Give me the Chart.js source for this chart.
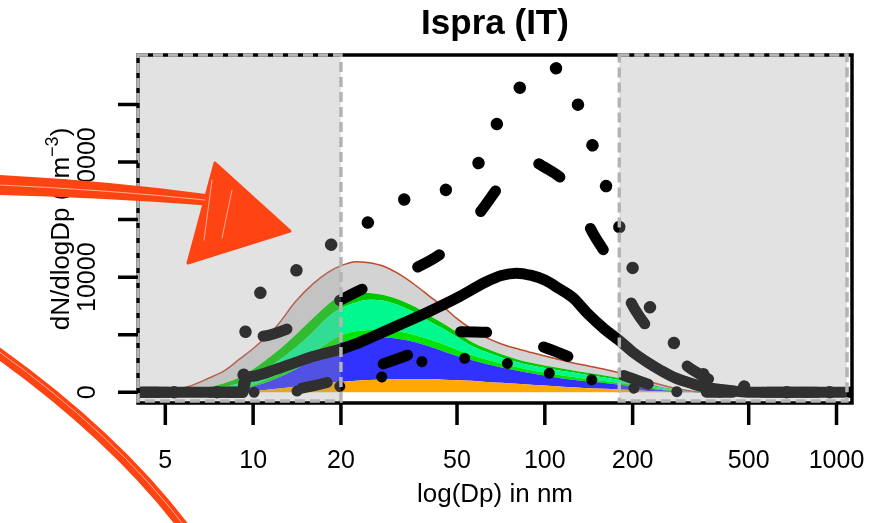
<!DOCTYPE html>
<html>
<head>
<meta charset="utf-8">
<title>Ispra (IT)</title>
<script src="https://cdn.jsdelivr.net/npm/chart.js@4.4.1/dist/chart.umd.min.js"></script>
<style>
  html, body { margin: 0; padding: 0; background: #fff; }
  #wrap { width: 876px; height: 523px; }
</style>
</head>
<body>
<div id="wrap"><canvas id="chart" width="876" height="523"></canvas></div>
<script>
// ---- fitted modes: cumulative tops of each layer (dN/dlogDp, cm-3) ----
const diam = [4, 5, 6, 7, 8, 9, 10, 12, 14, 16, 18, 20, 22.5, 25, 28, 32, 36, 40, 45, 50,
              56, 63, 71, 80, 90, 100, 112, 125, 140, 160, 180, 200, 225, 250, 280, 320, 360, 500, 1000, 1200];
const orangeTop = [0, 0, 0, 0, 0, 30, 100, 300, 500, 650, 800, 900, 1000, 1070, 1120, 1150, 1150, 1150, 1100, 1050,
                   1000, 900, 820, 750, 650, 580, 500, 430, 360, 300, 240, 180, 120, 70, 30, 0, 0, 0, 0, 0];
const blueTop   = [0, 0, 0, 30, 100, 250, 500, 1200, 2000, 2900, 3700, 4300, 4650, 4750, 4750, 4600, 4350, 4000, 3550, 3150,
                   2800, 2450, 2150, 1900, 1650, 1450, 1250, 1100, 950, 800, 650, 500, 350, 200, 80, 20, 0, 0, 0, 0];
const limeTop   = [0, 0, 10, 60, 150, 350, 650, 1500, 2400, 3400, 4300, 4950, 5300, 5420, 5400, 5250, 4950, 4600, 4150, 3700,
                   3250, 2850, 2500, 2200, 1920, 1700, 1500, 1330, 1160, 990, 820, 660, 470, 290, 140, 40, 0, 0, 0, 0];
const springTop = [0, 0, 60, 200, 450, 800, 1300, 2600, 3900, 5200, 6500, 7300, 7800, 8030, 7950, 7500, 6900, 6200, 5500, 4800,
                   4050, 3500, 3030, 2640, 2330, 2110, 1890, 1710, 1510, 1290, 1070, 870, 640, 400, 200, 60, 0, 0, 0, 0];
const greenTop  = [0, 20, 150, 400, 800, 1300, 2000, 3500, 5000, 6400, 7600, 8400, 8650, 8620, 8450, 8000, 7400, 6700, 5950, 5200,
                   4400, 3800, 3300, 2880, 2570, 2320, 2100, 1900, 1690, 1460, 1230, 1000, 740, 470, 250, 80, 0, 0, 0, 0];
const totalTop  = [0, 80, 500, 1200, 1900, 2900, 3800, 5700, 7900, 9400, 10400, 11000, 11350, 11250, 10950, 10200, 9300, 8400, 7400, 6400,
                   5500, 4750, 4200, 3800, 3450, 3150, 2850, 2550, 2300, 2000, 1700, 1400, 1000, 650, 350, 100, 0, 0, 0, 0];

// ---- measured / modelled size distributions ----
const solidD = [4, 9.2, 9.5, 10, 12, 14, 16, 18, 20, 22.5, 25, 32, 40, 50, 63, 71, 80, 90, 100, 112,
                125, 140, 160, 180, 200, 225, 250, 280, 320, 360, 400, 450, 500, 1000, 1200];
const solidN = [0, 0, 1250, 1400, 2000, 2600, 3100, 3450, 3750, 4200, 4700, 5900, 7000, 8200, 9600, 10150, 10350, 10150, 9750, 9000,
                8200, 6850, 5500, 4500, 3500, 2600, 1900, 1250, 750, 400, 250, 100, 0, 0, 0];

const dashHiD = [4, 9.2, 9.5, 10.3, 13.6, 19.1, 24.6, 35.4, 45.4, 59.8, 70.2, 85, 98.5, 122, 146, 171, 204, 242, 323, 434, 600, 1200];
const dashHiN = [0, 0, 4500, 4810, 5680, 7770, 9160, 10700, 12300, 15600, 18000, 20300, 19630, 17750, 13850, 11050, 7160, 4730, 1900, 460, 0, 0];

const dotHiD = [4, 9.2, 9.4, 10.4, 13.9, 18.2, 24.4, 32.6, 45.5, 58.5, 68, 81, 107, 129, 145, 162, 180, 200, 229, 277, 340, 450, 550, 700, 1200];
const dotHiN = [0, 0, 5100, 8400, 10500, 12700, 14650, 16700, 17550, 19700, 23170, 26300, 28200, 25150, 21600, 17950, 14370, 10800, 7420, 4290, 1770, 700, 200, 0, 0];

const dashLoD = [4, 9.5, 13.4, 18.4, 26.2, 35.1, 49.3, 66.5, 98, 129, 180, 215, 248, 300, 400, 1200];
const dashLoN = [0, 0, 200, 920, 2230, 3390, 5270, 5160, 3970, 2810, 1600, 900, 400, 100, 0, 0];

const dotLoD = [4, 9.9, 14, 19.6, 27.3, 37.9, 52.6, 74, 104, 146, 203, 286, 400, 1200];
const dotLoN = [0, 0, 100, 490, 1300, 2660, 2950, 2520, 1650, 1070, 350, 50, 0, 0];

// axes
const xTicks = [5, 10, 20, 50, 100, 200, 500, 1000];
const yTicks = [0, 5000, 10000, 15000, 20000, 25000];
const yLabelled = [0, 10000, 20000];
const shadeLeft = 20;   // lower cut of the sizing window
const shadeRight = 180; // upper cut

const pts = (xs, ys) => xs.map((v, i) => ({ x: v, y: ys[i] }));
const FONT = '"Liberation Sans", Arial, Helvetica, sans-serif';

function layer(values, color, border) {
  return {
    data: pts(diam, values),
    fill: '-1',
    backgroundColor: color,
    borderColor: border ? border.color : 'rgba(0,0,0,0)',
    borderWidth: border ? border.width : 0,
    pointRadius: 0,
    cubicInterpolationMode: 'monotone',
    order: 1
  };
}

function curve(xs, ys, width, dash, offset) {
  return {
    data: pts(xs, ys),
    fill: false,
    borderColor: '#000',
    borderWidth: width,
    borderDash: dash || [],
    borderDashOffset: offset || 0,
    borderCapStyle: 'round',
    borderJoinStyle: 'round',
    pointRadius: 0,
    cubicInterpolationMode: 'monotone',
    order: 0
  };
}

const orangeLayer = layer(orangeTop, '#ffa800');
orangeLayer.fill = 'origin';

const datasets = [
  orangeLayer,
  layer(blueTop, '#3232ff'),
  layer(limeTop, '#00e400'),
  layer(springTop, '#00f88e'),
  layer(greenTop, '#00c800'),
  layer(totalTop, '#d3d3d3', { color: '#bf4a2c', width: 1.5 }),
  curve(solidD, solidN, 11),
  curve(dashHiD, dashHiN, 11, [25, 60], -5),
  curve(dashLoD, dashLoN, 11, [26, 59], 5),
  curve(dotHiD, dotHiN, 12.5, [0.01, 43], 6),
  curve(dotLoD, dotLoN, 11, [0.01, 43], 12)
];

// frame, shading, ticks and titles in the style of a base R plot
const frame = {
  id: 'frame',
  afterDatasetsDraw(chart) {
    const { ctx, chartArea: a, scales: { x, y } } = chart;
    const xl = x.getPixelForValue(shadeLeft);
    const xr = x.getPixelForValue(shadeRight);
    ctx.save();

    ctx.fillStyle = 'rgba(160,160,160,0.3)';
    ctx.fillRect(a.left, a.top, xl - a.left, a.bottom - a.top - 2);
    ctx.fillRect(xr, a.top, a.right - 5 - xr, a.bottom - a.top - 2);

    ctx.strokeStyle = '#000';
    ctx.lineWidth = 3.5;
    ctx.strokeRect(a.left, a.top, a.right - a.left, a.bottom - a.top);

    ctx.setLineDash([10, 5]);
    ctx.strokeStyle = '#b4b4b4';
    ctx.lineWidth = 3.5;
    ctx.strokeRect(a.left, a.top, xl - a.left, a.bottom - a.top - 2);
    ctx.strokeRect(xr, a.top, a.right - 5 - xr, a.bottom - a.top - 2);
    ctx.setLineDash([]);

    // ticks
    ctx.strokeStyle = '#000';
    ctx.lineWidth = 3.5;
    ctx.beginPath();
    xTicks.forEach(t => {
      const px = x.getPixelForValue(t);
      ctx.moveTo(px, a.bottom);
      ctx.lineTo(px, a.bottom + 22);
    });
    yTicks.forEach(t => {
      const py = y.getPixelForValue(t);
      ctx.moveTo(a.left, py);
      ctx.lineTo(a.left - 20, py);
    });
    ctx.stroke();

    ctx.fillStyle = '#000';
    ctx.font = '25px ' + FONT;
    ctx.textAlign = 'center';
    ctx.textBaseline = 'alphabetic';
    xTicks.forEach(t => ctx.fillText(String(t), x.getPixelForValue(t), 468));
    yLabelled.forEach(t => {
      ctx.save();
      ctx.translate(95, y.getPixelForValue(t));
      ctx.rotate(-Math.PI / 2);
      ctx.fillText(String(t), 0, 0);
      ctx.restore();
    });

    // axis titles
    ctx.font = '26px ' + FONT;
    ctx.fillText('log(Dp) in nm', (a.left + a.right) / 2, 502);

    ctx.save();
    ctx.translate(69, (a.top + a.bottom) / 2);
    ctx.rotate(-Math.PI / 2);
    const main = 'dN/dlogDp (cm', sup = '\u22123', tail = ')';
    ctx.font = '26px ' + FONT;
    const w1 = ctx.measureText(main).width, w3 = ctx.measureText(tail).width;
    ctx.font = '18px ' + FONT;
    const w2 = ctx.measureText(sup).width;
    let cx = -(w1 + w2 + w3) / 2;
    ctx.textAlign = 'left';
    ctx.font = '26px ' + FONT;
    ctx.fillText(main, cx, 0);
    ctx.font = '18px ' + FONT;
    ctx.fillText(sup, cx + w1, -11);
    ctx.font = '26px ' + FONT;
    ctx.fillText(tail, cx + w1 + w2, 0);
    ctx.restore();

    // title
    ctx.font = 'bold 35px ' + FONT;
    ctx.textAlign = 'center';
    ctx.fillText('Ispra (IT)', (a.left + a.right) / 2, 34);

    drawArrows(ctx);
    ctx.restore();
  }
};

// hand-drawn red pointers
function drawArrows(ctx) {
  const red = '#ff4414';
  ctx.save();
  ctx.fillStyle = red;
  ctx.strokeStyle = red;
  ctx.lineJoin = 'round';
  ctx.lineCap = 'round';

  // upper arrow: shaft
  ctx.beginPath();
  ctx.moveTo(-2, 175);
  ctx.quadraticCurveTo(110, 181, 214, 195);
  ctx.lineTo(214, 206);
  ctx.quadraticCurveTo(110, 198, -2, 195);
  ctx.closePath();
  ctx.fill();
  // head
  ctx.beginPath();
  ctx.moveTo(215, 163);
  ctx.lineTo(290, 231);
  ctx.lineTo(188, 263);
  ctx.closePath();
  ctx.fill();
  ctx.lineWidth = 3;
  ctx.stroke();

  // lower arrow shaft
  ctx.lineWidth = 11;
  ctx.beginPath();
  ctx.moveTo(-6, 350);
  ctx.quadraticCurveTo(115, 436, 186, 530);
  ctx.stroke();

  // pencil streaks
  ctx.strokeStyle = 'rgba(255,255,255,0.55)';
  ctx.lineWidth = 1;
  ctx.beginPath();
  ctx.moveTo(0, 185);
  ctx.quadraticCurveTo(110, 190, 205, 200);
  ctx.moveTo(-6, 348);
  ctx.quadraticCurveTo(115, 434, 186, 528);
  ctx.moveTo(212, 180);
  ctx.lineTo(204, 240);
  ctx.moveTo(232, 190);
  ctx.lineTo(222, 238);
  ctx.stroke();
  ctx.restore();
}

new Chart(document.getElementById('chart'), {
  type: 'line',
  data: { datasets },
  options: {
    responsive: false,
    animation: false,
    events: [],
    layout: { padding: { left: 138, right: 24, top: 55, bottom: 120 } },
    plugins: { legend: { display: false }, tooltip: { enabled: false }, title: { display: false } },
    scales: {
      x: { type: 'logarithmic', min: 4.03, max: 1130, display: false },
      y: { type: 'linear', min: -930, max: 29300, display: false }
    }
  },
  plugins: [frame]
});
</script>
</body>
</html>
